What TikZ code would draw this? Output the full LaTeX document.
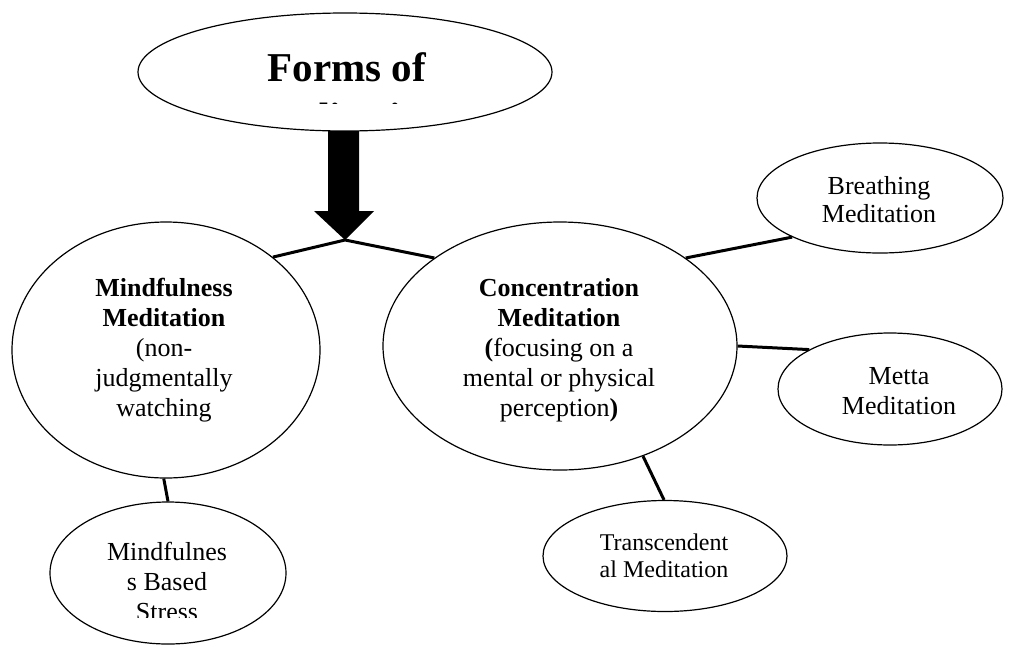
\documentclass[tikz,border=0pt]{standalone}
\usepackage{fontspec}
\setmainfont{Liberation Serif}
\usetikzlibrary{shapes.geometric}
\begin{document}
\begin{tikzpicture}[x=1pt,y=-1pt,
  oval/.style={draw=black, line width=1.2pt, ellipse, inner sep=0pt, fill=white},
  conn/.style={draw=black, line width=3pt, line join=miter},
  lbl/.style={align=center, inner sep=0pt, font=\fontsize{26}{30}\selectfont},
  smalllbl/.style={align=center, inner sep=0pt, font=\fontsize{24}{27}\selectfont},
  titlelbl/.style={align=center, inner sep=0pt, font=\fontsize{41}{50}\selectfont\bfseries},
]
\useasboundingbox (0,0) rectangle (1009,646);
% ellipses
\node[oval, minimum width=414pt, minimum height=118pt] (top) at (345,72) {};
\node[oval, minimum width=308pt, minimum height=256pt] (mind) at (166,350) {};
\node[oval, minimum width=354pt, minimum height=248pt] (conc) at (560,346) {};
\node[oval, minimum width=246pt, minimum height=110pt] (breath) at (880,198) {};
\node[oval, minimum width=224pt, minimum height=112pt] (metta) at (890,389) {};
\node[oval, minimum width=244pt, minimum height=111pt] (trans) at (665,556) {};
\node[oval, minimum width=236pt, minimum height=142pt] (mbs) at (168,573) {};
% thick arrow
\coordinate (tip) at (345,240);
\fill[black] (328,131) -- (359,131) -- (359,211) -- (374,211) -- (tip) -- (314,211) -- (328,211) -- cycle;
% connectors
\draw[conn] (mind.41) -- (tip) -- (conc.145);
\draw[conn] (conc.35) -- (breath.204);
\draw[conn] (conc.0) -- (metta.154);
\draw[conn] (conc.-53) -- (trans.91);
\draw[conn] (mind.-91) -- (mbs.90);
% texts
\begin{scope}
\clip (0,0) rectangle (1009,103);
\node[titlelbl] (title) at (347,92.5) {Forms of\\Meditation};
\end{scope}
\node[lbl] (mindt) at (164,350.5) {\textbf{Mindfulness}\\\textbf{Meditation}\\(non-\\judgmentally\\watching};
\node[lbl] (conct) at (559,350) {\textbf{Concentration}\\\textbf{Meditation}\\\textbf{(}focusing on a\\mental or physical\\perception\textbf{)}};
\node[lbl, font=\fontsize{26}{28}\selectfont] (breatht) at (879,200) {Breathing\\Meditation};
\node[lbl] (mettat) at (899,391.5) {Metta\\Meditation};
\node[smalllbl] (transt) at (664,555.5) {Transcendent\\al Meditation};
\begin{scope}
\clip (0,0) rectangle (1009,617);
\node[lbl] (mbst) at (167,581) {Mindfulnes\\s Based\\Stress};
\end{scope}
\end{tikzpicture}
\end{document}
